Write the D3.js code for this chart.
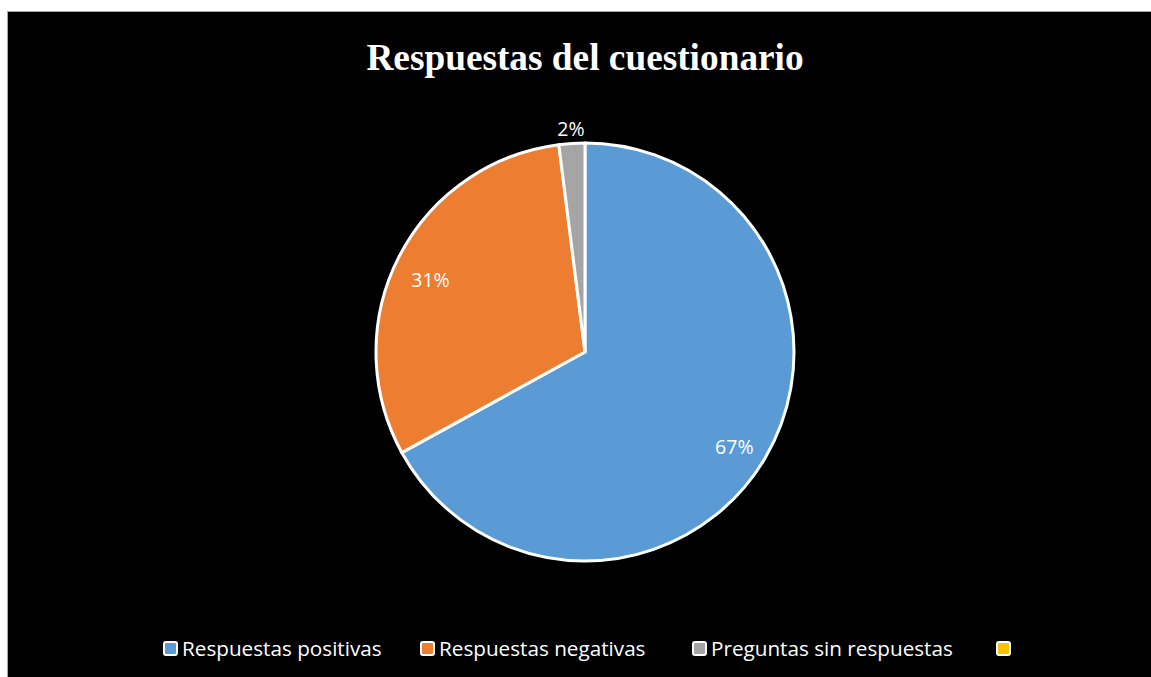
<!DOCTYPE html>
<html>
<head>
<meta charset="utf-8">
<script src="https://cdn.jsdelivr.net/npm/d3@7"></script>
<style>
  body { margin: 0; background: #fff; }
</style>
</head>
<body>
<div class="container"></div>
<script>
const categories = ["Respuestas positivas", "Respuestas negativas", "Preguntas sin respuestas", ""];
const values = [67, 31, 2, 0];
const colors = ["#5b9bd5", "#ed7d31", "#a5a5a5", "#ffc000"];
const title = "Respuestas del cuestionario";

let width = 1151, height = 677;

let svg = d3.select(".container")
  .append("svg")
  .attr("width", width)
  .attr("height", height);

// black chart area with thin grey border
svg.append("rect")
  .attr("x", 7.5)
  .attr("y", 11.5)
  .attr("width", width)
  .attr("height", height)
  .attr("fill", "#000")
  .attr("stroke", "#a6a6a6")
  .attr("stroke-width", 1);

svg.append("text")
  .attr("x", 585)
  .attr("y", 70)
  .attr("text-anchor", "middle")
  .attr("fill", "#fff")
  .style("font-family", "'Liberation Serif', 'Times New Roman', serif")
  .style("font-weight", "bold")
  .style("font-size", "37.3px")
  .text(title);

let data = categories.map((c, i) => ({ name: c, value: values[i], color: colors[i] }));

let pie = d3.pie()
  .value(d => d.value)
  .sort(null);

let radius = 209;
let arc = d3.arc().innerRadius(0).outerRadius(radius);

let g = svg.append("g")
  .attr("transform", "translate(585,352)");

let arcs = pie(data);

g.selectAll("path")
  .data(arcs.filter(d => d.data.value > 0))
  .enter().append("path")
  .attr("d", arc)
  .attr("fill", d => d.data.color)
  .attr("stroke", "#fff")
  .attr("stroke-width", 3)
  .attr("stroke-linejoin", "round");

let total = d3.sum(values);
let labelArc = d3.arc().innerRadius(radius * 0.83).outerRadius(radius * 0.83);
let outerArc = d3.arc().innerRadius(radius + 14).outerRadius(radius + 14);

g.selectAll(".lbl")
  .data(arcs.filter(d => d.data.value > 0))
  .enter().append("text")
  .attr("class", "lbl")
  .attr("transform", d => {
    let small = d.data.value / total < 0.05;
    let c = small ? outerArc.centroid(d) : labelArc.centroid(d);
    return `translate(${c[0]},${c[1] + (small ? 0 : 7)})`;
  })
  .attr("text-anchor", "middle")
  .attr("dy", "0.35em")
  .attr("fill", "#fff")
  .style("font-family", "'Open Sans', Carlito, Calibri, sans-serif")
  .style("font-size", "19.5px")
  .text(d => Math.round(d.data.value / total * 100) + "%");

// legend
let legendX = [163, 420, 692, 996];
let legend = svg.append("g").attr("transform", "translate(0,649)");

data.forEach((d, i) => {
  let item = legend.append("g").attr("transform", `translate(${legendX[i]},0)`);
  item.append("rect")
    .attr("x", 1)
    .attr("y", -7)
    .attr("width", 13)
    .attr("height", 13)
    .attr("rx", 2)
    .attr("fill", d.color)
    .attr("stroke", "#fff")
    .attr("stroke-width", 2);
  item.append("text")
    .attr("x", 19)
    .attr("y", 0)
    .attr("dy", "0.35em")
    .attr("fill", "#fff")
    .style("font-family", "'Open Sans', Carlito, Calibri, sans-serif")
    .style("font-size", "20.7px")
    .text(d.name);
});
</script>
</body>
</html>
